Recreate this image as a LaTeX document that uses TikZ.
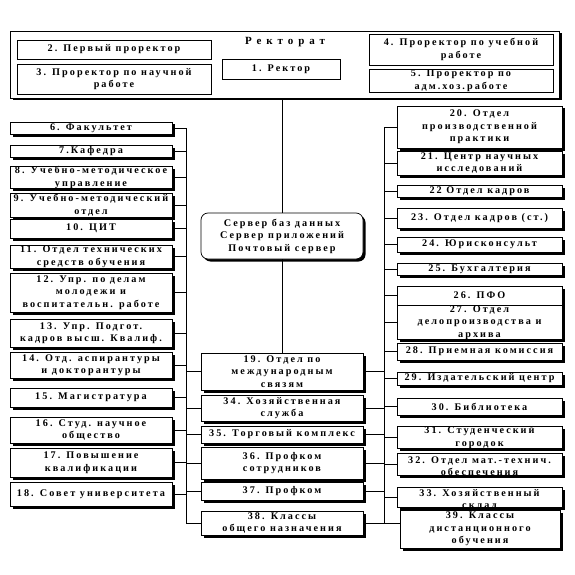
\documentclass[tikz,border=0pt]{standalone}
\usepackage{fontspec}
\setmainfont{Liberation Serif}
\newfontfamily\rufont[LetterSpace=20]{Liberation Serif}
\newfontfamily\titlefont[LetterSpace=45]{Liberation Serif}
\usepackage{tikz}
\usetikzlibrary{positioning,shadows}

\begin{document}
\begin{tikzpicture}[
  x=1pt, y=-1pt,
  box/.style={rectangle, draw, line width=0.7pt, fill=white, inner sep=0pt, align=center, font={\rufont\bfseries\fontsize{10.2}{12.5}\selectfont}},
  blackshadow/.style={general shadow={fill=black, shadow xshift=2.5pt, shadow yshift=-2.5pt}},
  leftbox/.style={box, blackshadow, minimum width=162pt},
  midbox/.style={box, blackshadow, minimum width=162pt},
  rightbox/.style={box, blackshadow, minimum width=165pt},
  cuttext/.style={path picture={\node[anchor=north, align=center, inner sep=0pt, font={\rufont\bfseries\fontsize{10.2}{12.5}\selectfont}] at ([yshift=-2pt]path picture bounding box.north) {#1};}},
  link/.style={line width=0.6pt}
]
  \useasboundingbox (0,0) rectangle (574,575);

  \node[box, blackshadow, minimum width=549pt, minimum height=67pt] (rektorat) at (284.5,64.5) {};
  \node[font={\titlefont\bfseries\fontsize{11}{13}\selectfont}] (title) at (285,42) {Ректорат};
  \node[box, minimum width=194pt, minimum height=19pt] (pervyj) at (114,49.5) {2. Первый проректор};
  \node[box, minimum width=194pt, minimum height=30pt] (nauka) at (114,79) {3. Проректор по научной\\работе};
  \node[box, minimum width=118pt, minimum height=20pt] (rektor) at (281,69) {1. Ректор};
  \node[box, minimum width=184pt, minimum height=31pt] (ucheba) at (461,49.5) {4. Проректор по учебной\\работе};
  \node[box, minimum width=184pt, minimum height=23pt] (ahch) at (461,80.5) {5. Проректор по\\адм.хоз.работе};

  \node[leftbox, minimum height=12pt] (fakultet) at (91,128) {6. Факультет};
  \node[leftbox, minimum height=12pt] (kafedra) at (91,151) {7.Кафедра};
  \node[leftbox, minimum height=21pt] (umu) at (91,177.5) {8. Учебно-методическое\\управление};
  \node[leftbox, minimum height=24pt] (umo) at (91,205) {9. Учебно-методический\\отдел};
  \node[leftbox, minimum height=19pt] (cit) at (91,228.5) {10. ЦИТ};
  \node[leftbox, minimum height=23pt] (tso) at (91,256.5) {11. Отдел технических\\средств обучения};
  \node[leftbox, minimum height=39pt] (molodezh) at (91,292.5) {12. Упр. по делам\\молодежи и\\воспитательн. работе};
  \node[leftbox, minimum height=28pt] (kvalif) at (91,333) {13. Упр. Подгот.\\кадров высш. Квалиф.};
  \node[leftbox, minimum height=26pt] (aspirant) at (91,365) {14. Отд. аспирантуры\\и докторантуры};
  \node[leftbox, minimum height=19pt] (magistr) at (91,397.5) {15. Магистратура};
  \node[leftbox, minimum height=26pt] (sno) at (91,430) {16. Студ. научное\\общество};
  \node[leftbox, minimum height=29pt] (povysh) at (91,462.5) {17. Повышение\\квалификации};
  \node[leftbox, minimum height=24pt] (sovet) at (91,494) {18. Совет университета};

  \node[midbox, rounded corners=7pt, minimum height=46pt] (server) at (282,236) {Сервер баз данных\\Сервер приложений\\Почтовый сервер};
  \node[midbox, minimum height=37pt] (mezhdunar) at (282,371.5) {19. Отдел по\\международным\\связям};
  \node[midbox, minimum height=26pt] (hozsluzhba) at (282,408) {34. Хозяйственная\\служба};
  \node[midbox, minimum height=17pt] (torg) at (282,434.5) {35. Торговый комплекс};
  \node[midbox, minimum height=32pt] (profsotr) at (282,463) {36. Профком\\сотрудников};
  \node[midbox, minimum height=18pt] (profkom) at (282,491) {37. Профком};
  \node[midbox, minimum height=24pt] (klassy) at (282,523) {38. Классы\\общего назначения};

  \node[rightbox, minimum height=42pt] (praktika) at (479.5,127) {20. Отдел\\производственной\\практики};
  \node[rightbox, minimum height=24pt] (cni) at (479.5,163) {21. Центр научных\\исследований};
  \node[rightbox, minimum height=12pt] (kadry) at (479.5,191) {22 Отдел кадров};
  \node[rightbox, minimum height=20pt] (kadryst) at (479.5,218) {23. Отдел кадров (ст.)};
  \node[rightbox, minimum height=15pt] (jurist) at (479.5,244.5) {24. Юрисконсульт};
  \node[rightbox, minimum height=12pt] (buh) at (479.5,269) {25. Бухгалтерия};
  \node[rightbox, minimum height=19pt] (pfo) at (479.5,295.5) {26. ПФО};
  \node[rightbox, minimum height=31pt] (arhiv) at (479.5,322.5) {27. Отдел\\делопроизводства и\\архива};
  \node[rightbox, minimum height=17pt] (priem) at (479.5,351.5) {28. Приемная комиссия};
  \node[rightbox, minimum height=13pt] (izdat) at (479.5,378.5) {29. Издательский центр};
  \node[rightbox, minimum height=17pt] (biblio) at (479.5,406.5) {30. Библиотека};
  \node[rightbox, minimum height=21pt] (gorodok) at (479.5,437.5) {31. Студенческий\\городок};
  \node[rightbox, minimum height=22pt, cuttext={32. Отдел мат.-технич.\\обеспечения}] (mto) at (479.5,464) {};
  \node[rightbox, minimum height=20pt, cuttext={33. Хозяйственный\\склад}] (sklad) at (479.5,497) {};
  \node[rightbox, minimum width=160pt, minimum height=38pt] (distant) at (480,529) {39. Классы\\дистанционного\\обучения};

  \coordinate (lbus) at (186,0);
  \coordinate (rbus) at (384,0);

  \draw[link] (rektorat.south -| server.north) -- (server.north);
  \draw[link] (server.south) -- (mezhdunar.north);

  \draw[link] (fakultet.east -| lbus) -- (klassy.west -| lbus) -- (klassy.west);
  \foreach \n in {fakultet,kafedra,umu,umo,cit,tso,molodezh,kvalif,aspirant,magistr,sno,povysh,sovet}
    \draw[link] (\n.east) -- (\n.east -| lbus);
  \foreach \n in {mezhdunar,hozsluzhba,torg,profsotr,profkom}
    \draw[link] (\n.west) -- (\n.west -| lbus);

  \draw[link] (praktika.west -| rbus) -- (klassy.east -| rbus);
  \foreach \n in {mezhdunar,hozsluzhba,torg,profsotr,profkom}
    \draw[link] (\n.east) -- (\n.east -| rbus);
  \draw[link] (klassy.east) -- (klassy.east -| distant.west);
  \foreach \n in {praktika,cni,kadry,kadryst,jurist,buh,pfo,arhiv,priem,izdat,biblio,gorodok,mto,sklad}
    \draw[link] (\n.west) -- (\n.west -| rbus);
\end{tikzpicture}
\end{document}
